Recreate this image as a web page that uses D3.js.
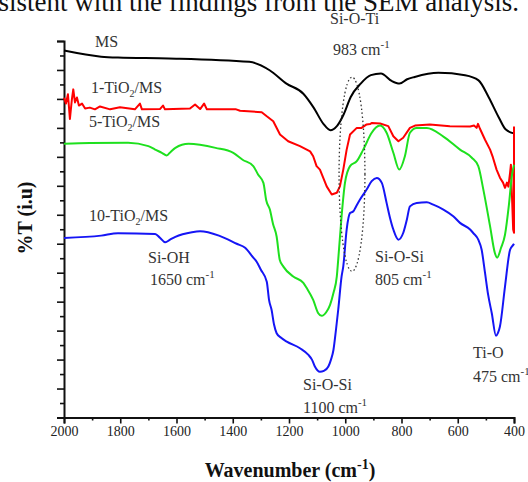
<!DOCTYPE html>
<html>
<head>
<meta charset="utf-8">
<script src="https://cdn.jsdelivr.net/npm/d3@7"></script>
<style>
body { margin: 0; background: #fff; }
svg { display: block; font-family: "Liberation Serif", "Times New Roman", serif; }
</style>
</head>
<body>
<svg id="chart" width="528" height="482"></svg>
<script>
// FTIR spectra, %T in arbitrary units (axis has no numbers)
const msWn = [2000,1868,1808,1628,1341,1269,1209,1149,1113,1077,1053,1029,1005,981,945,909,873,835,807,780,753,669,574,526,490,454,430,400]
const msT  = [126.7,124.6,124.3,124.0,122.8,119.9,115.3,111.8,107.1,101.3,99.2,100.7,104.8,110.6,115.3,118.2,118.8,116.2,115.3,116.8,117.6,119.0,118.2,116.4,110.6,103.6,99.5,98.1]

const ti1Wn = [2000,1993,1986,1979,1972,1967,1961,1954,1947,1936,1925,1908,1890,1872,1836,1801,1748,1730,1723,1659,1648,1641,1552,1534,1516,1502,1492,1388,1374,1297,1279,1256,1232,1203,1161,1125,1114,1102,1090,1066,1048,1030,1019,1007,995,983,959,942,924,912,905,876,847,829,811,794,770,752,699,628,556,542,533,528,521,503,485,475,462,450,439,432,425,420,414,411,408,403,400,400]
const ti1T  = [110.4,108.4,111.6,103.1,109.8,113.3,108.8,110.5,107.7,108.4,106.7,107.0,106.4,107.4,106.4,107.1,106.4,108.4,106.4,106.5,107.7,106.4,106.7,108.1,106.5,108.4,106.4,106.4,105.9,105.4,104.0,102.3,97.7,95.4,93.7,91.9,90.2,86.8,85.6,79.8,77.0,77.6,79.8,85.6,92.5,97.7,100.0,100.0,101.2,101.3,101.7,101.5,100.6,97.1,95.4,96.6,100.0,100.8,101.2,100.6,100.5,100.8,100.0,101.4,99.7,95.9,92.5,89.8,85.6,82.8,81.1,79.3,81.1,79.7,84.5,87.3,78.7,64.9,63.8,100.5]

const ti5Wn = [2000,1908,1772,1700,1676,1652,1635,1620,1604,1557,1461,1398,1365,1327,1310,1291,1281,1268,1257,1244,1233,1220,1185,1149,1137,1114,1096,1084,1066,1054,1042,1030,1025,1013,1001,983,959,936,906,891,876,853,829,808,788,770,746,710,651,592,550,527,509,485,468,460,446,432,418,407,400]
const ti5T  = [94.5,94.8,94.9,93.7,92.5,91.4,90.5,91.8,93.1,94.5,93.1,91.4,89.0,86.8,83.9,81.0,75.0,71.8,66.9,62.5,54.5,52.1,48.7,46.5,44.7,40.6,36.0,35.1,36.6,38.9,43.0,48.7,54.5,69.5,81.0,86.8,88.5,92.5,98.3,100.1,100.8,98.3,91.4,85.6,90.2,98.3,100.0,100.0,97.0,92.5,89.7,86.8,78.7,66.0,56.8,55.2,58.6,63.1,73.5,83.9,87.3]

const ti10Wn = [2000,1868,1808,1676,1659,1640,1623,1604,1545,1516,1449,1386,1356,1327,1315,1300,1279,1271,1262,1253,1244,1228,1208,1161,1131,1118,1108,1090,1076,1060,1051,1042,1033,1025,1013,1007,995,983,971,962,948,924,906,888,870,853,841,829,811,794,781,770,746,710,687,651,616,592,556,545,527,515,503,492,479,464,457,450,432,414,402,400]
const ti10T  = [62.0,62.8,63.6,63.4,62.1,60.5,61.4,62.4,64.0,64.3,62.8,60.0,58.6,55.2,53.8,51.0,46.9,40.6,37.2,32.0,29.1,27.5,26.2,23.9,21.6,19.9,17.6,15.8,16.1,17.6,19.9,23.3,30.3,37.2,48.7,52.2,64.9,70.6,71.2,72.8,75.2,78.7,81.6,82.7,81.0,74.1,69.0,64.9,61.4,63.7,68.3,72.9,74.1,74.3,73.5,71.8,69.5,67.2,64.9,63.7,61.4,57.9,49.9,42.4,36.0,28.2,29.2,31.4,45.2,57.9,59.7,60.0]

const xMajorTicks = [2000,1800,1600,1400,1200,1000,800,600,400]
const xMinorTicks = [1900,1700,1500,1300,1100,900,700,500]

const svg = d3.select('#chart')

const x = d3.scaleLinear().domain([2000, 400]).range([64, 514])
const y = d3.scaleLinear().domain([0, 130]).range([417.5, 41])

// caption text cut at the top of the picture
svg.append('text')
    .attr('x', 519).attr('y', 11)
    .attr('text-anchor', 'end')
    .attr('font-size', 27)
    .attr('fill', '#111')
    .text('consistent with the findings from the SEM analysis.')

// axes
let yMajor = d3.axisLeft(y).tickValues(d3.range(0, 131, 10)).tickSize(7).tickFormat('')
let yMinor = d3.axisLeft(y).tickValues(d3.range(5, 131, 10)).tickSize(4).tickFormat('')
let xMajor = d3.axisBottom(x).tickValues(xMajorTicks).tickSize(6).tickPadding(3).tickFormat(d3.format('d'))
let xMinor = d3.axisBottom(x).tickValues(xMinorTicks).tickSize(3).tickFormat('')

let gy = svg.append('g').attr('transform', 'translate(64,0)')
gy.append('g').call(yMinor).call(g => g.select('.domain').remove())
gy.append('g').call(yMajor)

let gx = svg.append('g').attr('transform', 'translate(0,417.5)')
gx.append('g').call(xMinor).call(g => g.select('.domain').remove())
gx.append('g').call(xMajor)

svg.selectAll('.domain').attr('stroke', '#111').attr('stroke-width', 2)
svg.selectAll('.tick line').attr('stroke', '#111').attr('stroke-width', 1.6)
svg.selectAll('.tick text')
    .attr('font-family', '"Liberation Serif", serif')
    .attr('font-size', 14)
    .attr('fill', '#222')

// axis titles
let xt = svg.append('text')
    .attr('x', 290).attr('y', 477)
    .attr('text-anchor', 'middle')
    .attr('font-size', 20).attr('font-weight', 'bold').attr('fill', '#111')
xt.append('tspan').text('Wavenumber (cm')
xt.append('tspan').attr('dy', -8).attr('font-size', 14).text('-1')
xt.append('tspan').attr('dy', 8).text(')')

svg.append('text')
    .attr('transform', 'translate(32,218) rotate(-90)')
    .attr('text-anchor', 'middle')
    .attr('font-size', 20).attr('font-weight', 'bold').attr('fill', '#111')
    .text('%T (i.u)')

// spectra
const series = [
    {wn: msWn, t: msT, color: '#000000', curve: d3.curveMonotoneX},
    {wn: ti1Wn, t: ti1T, color: '#ff0000', curve: d3.curveLinear},
    {wn: ti5Wn, t: ti5T, color: '#1ee01e', curve: d3.curveMonotoneX},
    {wn: ti10Wn, t: ti10T, color: '#1515f5', curve: d3.curveMonotoneX}
]

series.forEach(s => {
    let pts = s.wn.map((w, i) => [w, s.t[i]])
    let line = d3.line()
        .x(d => x(d[0]))
        .y(d => y(d[1]))
        .curve(s.curve)
    svg.append('path')
        .datum(pts)
        .attr('d', line)
        .attr('fill', 'none')
        .attr('stroke', s.color)
        .attr('stroke-width', 2)
        .attr('stroke-linejoin', 'round')
})

// dotted ellipse round the Si-O-Ti band
svg.append('ellipse')
    .attr('cx', x(976)).attr('cy', y(84))
    .attr('rx', x(930) - x(976)).attr('ry', y(84) - y(117.5))
    .attr('fill', 'none')
    .attr('stroke', '#333')
    .attr('stroke-width', 1.3)
    .attr('stroke-dasharray', '1.5,2.5')

// labels
let label = (px, py, parts) => {
    let t = svg.append('text')
        .attr('x', px).attr('y', py)
        .attr('font-size', 16).attr('fill', '#333')
    parts.forEach(p => {
        let ts = t.append('tspan').text(p.s)
        if (p.sub) ts.attr('font-size', 10).attr('dy', 4)
        if (p.sup) ts.attr('font-size', 11).attr('dy', -7)
        if (p.back) ts.attr('dy', p.back)
    })
}

label(95, 47, [{s: 'MS'}])
label(91, 93, [{s: '1-TiO'}, {s: '2', sub: true}, {s: '/MS', back: -4}])
label(89, 127, [{s: '5-TiO'}, {s: '2', sub: true}, {s: '/MS', back: -4}])
label(89, 221, [{s: '10-TiO'}, {s: '2', sub: true}, {s: '/MS', back: -4}])
label(148, 263, [{s: 'Si-OH'}])
label(150, 285, [{s: '1650 cm'}, {s: '-1', sup: true}])
label(330, 24, [{s: 'Si-O-Ti'}])
label(333, 55, [{s: '983 cm'}, {s: '-1', sup: true}])
label(375, 262, [{s: 'Si-O-Si'}])
label(375, 285, [{s: '805 cm'}, {s: '-1', sup: true}])
label(473, 358, [{s: 'Ti-O'}])
label(473, 382, [{s: '475 cm'}, {s: '-1', sup: true}])
label(303, 390, [{s: 'Si-O-Si'}])
label(303, 413, [{s: '1100 cm'}, {s: '-1', sup: true}])
</script>
</body>
</html>
